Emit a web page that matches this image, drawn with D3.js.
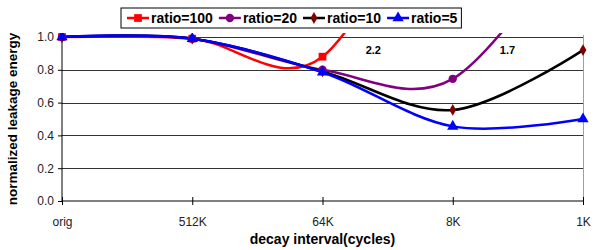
<!DOCTYPE html>
<html>
<head>
    <title>Normalized leakage energy</title>
    <script src="https://d3js.org/d3.v7.min.js"></script>
    <style>
        body { margin: 0; background: #fff; }
        text { font-family: Arial, "Liberation Sans", sans-serif; }
    </style>
</head>
<body>
    <div id="chart"></div>
    <script>
        // data
        var categories = ["orig", "512K", "64K", "8K", "1K"];
        var ratio100 = [1.0, 0.99, 0.88, 2.2, null];
        var ratio20 = [1.0, 0.99, 0.80, 0.745, 1.7];
        var ratio10 = [1.0, 0.99, 0.79, 0.555, 0.92];
        var ratio5 = [1.0, 0.99, 0.785, 0.455, 0.50];
        var yTicks = [0, 0.2, 0.4, 0.6, 0.8, 1.0];
        // off-scale values written on the chart
        var offLabels = [
            { text: "2.2", at: 2.39 },
            { text: "1.7", at: 3.42 }
        ];

        var series = [
            { name: "ratio=100", values: ratio100, line: "#ff0000", fill: "#ff0000", symbol: d3.symbolSquare, size: 60 },
            { name: "ratio=20", values: ratio20, line: "#800080", fill: "#800080", symbol: d3.symbolCircle, size: 55 },
            { name: "ratio=10", values: ratio10, line: "#000000", fill: "#800000", symbol: d3.symbolDiamond, size: 40 },
            { name: "ratio=5", values: ratio5, line: "#0000ff", fill: "#0000ff", symbol: d3.symbolTriangle, size: 55 }
        ];

        var width = 594;
        var height = 250;
        var plotLeft = 62, plotRight = 583, plotTop = 37, plotBottom = 201;

        var svg = d3.select("#chart")
            .append("svg")
            .attr("width", width)
            .attr("height", height);

        var x = d3.scalePoint()
            .domain(categories)
            .range([plotLeft, plotRight]);

        var y = d3.scaleLinear()
            .domain([0, 1])
            .range([plotBottom, plotTop]);

        // gridlines
        svg.append("g")
            .attr("transform", "translate(" + plotLeft + ",0)")
            .call(d3.axisLeft(y).tickValues(yTicks.slice(1)).tickSize(-(plotRight - plotLeft)).tickFormat(""))
            .call(function(g) {
                g.select(".domain").remove();
                g.selectAll("line").attr("stroke", "#333").attr("shape-rendering", "crispEdges");
            });

        // right border of plot area
        svg.append("line")
            .attr("x1", plotRight).attr("x2", plotRight)
            .attr("y1", plotTop - 2).attr("y2", plotBottom)
            .attr("stroke", "#a0a0a0")
            .attr("shape-rendering", "crispEdges");

        // y axis
        svg.append("g")
            .attr("transform", "translate(" + plotLeft + ",0)")
            .call(d3.axisLeft(y).tickValues(yTicks).tickFormat(d3.format(".1f")).tickSize(4).tickPadding(4))
            .call(function(g) {
                g.select(".domain").attr("d", "M0," + plotTop + "V" + plotBottom).attr("stroke", "#000");
                g.selectAll("line").attr("stroke", "#000");
                g.selectAll("text").attr("font-size", 12).attr("fill", "#222");
            });

        // x axis
        svg.append("g")
            .attr("transform", "translate(0," + plotBottom + ")")
            .call(d3.axisBottom(x).tickSize(4).tickPadding(12))
            .call(function(g) {
                g.select(".domain").attr("d", "M" + plotLeft + ",0H" + plotRight).attr("stroke", "#000");
                g.selectAll("line").attr("y1", -4).attr("y2", 4).attr("stroke", "#000");
                g.selectAll("text").attr("font-size", 12).attr("fill", "#222");
            });

        // clip so off-scale curves leave through the top
        svg.append("clipPath")
            .attr("id", "plot-clip")
            .append("rect")
            .attr("x", 0).attr("y", 33)
            .attr("width", width).attr("height", height - 33);

        var line = d3.line()
            .defined(function(d) { return d != null; })
            .x(function(d, i) { return x(categories[i]); })
            .y(function(d) { return y(d); })
            .curve(d3.curveCatmullRom.alpha(0));

        var plot = svg.append("g").attr("clip-path", "url(#plot-clip)");

        series.forEach(function(s) {
            plot.append("path")
                .datum(s.values)
                .attr("d", line)
                .attr("fill", "none")
                .attr("stroke", s.line)
                .attr("stroke-width", 2.5);
        });

        series.forEach(function(s) {
            plot.selectAll(null)
                .data(s.values.map(function(v, i) { return { v: v, c: categories[i] }; })
                    .filter(function(d) { return d.v != null && d.v <= 1.02; }))
                .enter()
                .append("path")
                .attr("d", d3.symbol().type(s.symbol).size(s.size))
                .attr("transform", function(d) { return "translate(" + x(d.c) + "," + y(d.v) + ")"; })
                .attr("fill", s.fill);
        });

        // labels for values above the axis
        svg.selectAll(".off")
            .data(offLabels)
            .enter()
            .append("text")
            .attr("class", "off")
            .attr("x", function(d) { return plotLeft + d.at * x.step(); })
            .attr("y", 54)
            .attr("text-anchor", "middle")
            .attr("font-size", 11)
            .attr("font-weight", "bold")
            .text(function(d) { return d.text; });

        // axis titles
        svg.append("text")
            .attr("x", (plotLeft + plotRight) / 2)
            .attr("y", 244)
            .attr("text-anchor", "middle")
            .attr("font-size", 14)
            .attr("font-weight", "bold")
            .text("decay interval(cycles)");

        svg.append("text")
            .attr("transform", "translate(17,119) rotate(-90)")
            .attr("text-anchor", "middle")
            .attr("font-size", 13.5)
            .attr("font-weight", "bold")
            .text("normalized leakage energy");

        // legend
        var legend = svg.append("g");
        var box = legend.append("rect")
            .attr("y", 8).attr("height", 20)
            .attr("fill", "#fff")
            .attr("stroke", "#000");

        var lx = 127;
        series.forEach(function(s) {
            var item = legend.append("g");
            item.append("line")
                .attr("x1", lx).attr("x2", lx + 22)
                .attr("y1", 18).attr("y2", 18)
                .attr("stroke", s.line)
                .attr("stroke-width", 2.5);
            item.append("path")
                .attr("d", d3.symbol().type(s.symbol).size(s.size))
                .attr("transform", "translate(" + (lx + 11) + ",18)")
                .attr("fill", s.fill);
            var t = item.append("text")
                .attr("x", lx + 24)
                .attr("y", 23)
                .attr("font-size", 14)
                .attr("font-weight", "bold")
                .text(s.name);
            lx += 24 + t.node().getComputedTextLength() + 6;
        });
        box.attr("x", 121).attr("width", lx - 121 - 2);
    </script>
</body>
</html>
